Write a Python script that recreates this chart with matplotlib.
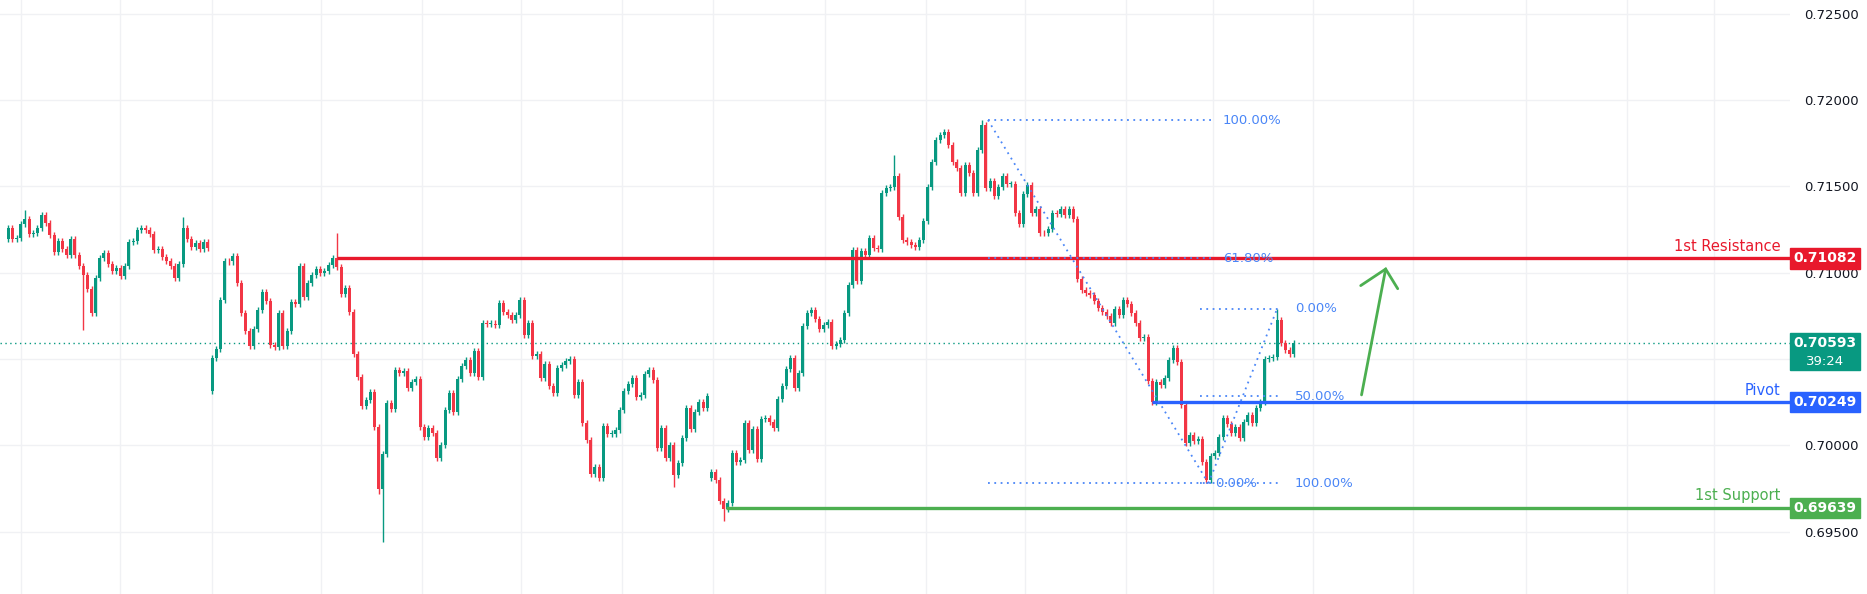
import matplotlib
matplotlib.use("Agg")
import matplotlib.pyplot as plt
from matplotlib.patches import Rectangle
import matplotlib.transforms as mtrans
import numpy as np

closes = [
0.71259, 0.71195, 0.71201, 0.71282, 0.71311, 0.71224, 0.71230, 0.71259, 0.71334, 0.71287,
0.71218, 0.71120, 0.71183, 0.71137, 0.71102, 0.71195, 0.71102, 0.71038, 0.70986, 0.70905,
0.70766, 0.70969, 0.71085, 0.71114, 0.71050, 0.71010, 0.71027, 0.70981, 0.71038, 0.71177,
0.71183, 0.71247, 0.71259, 0.71247, 0.71224, 0.71131, 0.71137, 0.71091, 0.71067, 0.71038,
0.70969, 0.71050, 0.71259, 0.71195, 0.71148, 0.71172, 0.71137, 0.71177, 0.71143,
0.70506, 0.70558, 0.70842, 0.71067, 0.71065, 0.71096, 0.70940, 0.70766, 0.70662, 0.70575, 0.70674,
0.70784, 0.70888, 0.70836, 0.70581, 0.70569, 0.70766, 0.70575, 0.70662, 0.70830, 0.70818,
0.71038, 0.70859, 0.70940, 0.70986, 0.71021, 0.70998, 0.71010, 0.71044, 0.71085, 0.71033,
0.70876, 0.70911, 0.70772, 0.70529, 0.70396, 0.70228, 0.70263, 0.70309, 0.70106, 0.69747,
0.69950, 0.70245, 0.70211, 0.70436, 0.70419, 0.70431, 0.70332, 0.70367, 0.70384, 0.70106,
0.70048, 0.70100, 0.70072, 0.69927, 0.70002, 0.70205, 0.70303, 0.70193, 0.70384, 0.70459,
0.70494, 0.70419, 0.70546, 0.70396, 0.70708, 0.70703, 0.70705, 0.70697, 0.70824, 0.70772,
0.70755, 0.70726, 0.70755, 0.70842, 0.70639, 0.70708, 0.70517, 0.70529, 0.70390, 0.70471,
0.70344, 0.70303, 0.70448, 0.70465, 0.70488, 0.70500, 0.70292, 0.70367, 0.70129, 0.70031,
0.69834, 0.69875, 0.69811, 0.70112, 0.70066, 0.70068, 0.70089, 0.70205, 0.70315, 0.70355,
0.70390, 0.70280, 0.70292, 0.70413, 0.70436, 0.70378, 0.69985, 0.70100, 0.69927, 0.70002,
0.69828, 0.69898, 0.70043, 0.70216, 0.70095, 0.70193, 0.70251, 0.70216, 0.70286, 0.69846,
0.69799, 0.69678, 0.69632, 0.69666, 0.69956, 0.69904, 0.69915, 0.70129, 0.69973, 0.70095,
0.69921, 0.70153, 0.70158, 0.70135, 0.70100, 0.70268, 0.70344, 0.70442, 0.70506, 0.70332,
0.70419, 0.70691, 0.70766, 0.70784, 0.70732, 0.70674, 0.70697, 0.70714, 0.70575, 0.70587,
0.70610, 0.70766, 0.70928, 0.71131, 0.70952, 0.71125, 0.71102, 0.71201, 0.71143, 0.71137,
0.71461, 0.71490, 0.71496, 0.71560, 0.71322, 0.71189, 0.71177, 0.71160, 0.71148, 0.71189,
0.71299, 0.71496, 0.71641, 0.71768, 0.71797, 0.71814, 0.71739, 0.71641, 0.71606, 0.71461,
0.71623, 0.71577, 0.71461, 0.71710, 0.71855, 0.71490, 0.71531, 0.71444, 0.71496, 0.71560,
0.71513, 0.71515, 0.71345, 0.71282, 0.71455, 0.71507, 0.71345, 0.71369, 0.71230, 0.71228,
0.71253, 0.71345, 0.71342, 0.71369, 0.71334, 0.71369, 0.71311, 0.70963, 0.70900, 0.70882,
0.70871, 0.70836, 0.70795, 0.70772, 0.70749, 0.70708, 0.70790, 0.70755, 0.70842, 0.70818,
0.70766, 0.70708, 0.70622, 0.70628, 0.70373, 0.70251, 0.70367, 0.70349, 0.70390, 0.70494,
0.70564, 0.70483, 0.70234, 0.70014, 0.70060, 0.70025, 0.70037, 0.69904, 0.69799, 0.69938,
0.69956, 0.70048, 0.70158, 0.70124, 0.70072, 0.70106, 0.70043, 0.70135, 0.70176, 0.70129,
0.70216, 0.70251, 0.70500, 0.70506, 0.70512, 0.70726, 0.70593, 0.70552, 0.70529, 0.70593,
]
first_open = 0.71195
gap_opens = {50: 0.70315, 170: 0.69811}          # 1-based candle index -> open
wick_highs = {5: 0.71363, 43: 0.71322, 80: 0.71230, 214: 0.71681, 235: 0.71884, 306: 0.70790}
wick_lows = {19: 0.70668, 90: 0.69720, 91: 0.69440, 161: 0.69760, 173: 0.69562, 289: 0.69780}
default_wick = 0.00018

resistance, pivot, support = 0.71082, 0.70249, 0.69639
current_price, countdown = 0.70593, "39:24"
fib1_high, fib1_low = 0.71884, 0.69780
fib2_low, fib2_high = 0.69780, 0.70790
y_ticks = [0.695, 0.700, 0.705, 0.710, 0.715, 0.720, 0.725]

GREEN, RED = "#089981", "#f23645"
n = len(closes)
idx = np.arange(1, n + 1)
opens = [first_open] + closes[:-1]
for k, v in gap_opens.items():
    opens[k - 1] = v
highs, lows = [], []
for i in range(n):
    hi = max(opens[i], closes[i]) + default_wick
    lo = min(opens[i], closes[i]) - default_wick
    hi = max(hi, wick_highs.get(i + 1, hi))
    lo = min(lo, wick_lows.get(i + 1, lo))
    highs.append(hi); lows.append(lo)

W, H = 1867, 594
fig = plt.figure(figsize=(W / 100, H / 100), dpi=100)
ax = fig.add_axes([0, 0, 1790 / W, 1])
ax.set_xlim(-1.0, 429.3)
ax.set_ylim(0.69139, 0.72579)
for s in ax.spines.values():
    s.set_visible(False)
ax.set_xticks([])
ax.set_yticks(y_ticks)
ax.yaxis.tick_right()
ax.tick_params(axis="y", length=0, pad=10, labelsize=9.5, labelcolor="#131722")
ax.yaxis.set_major_formatter(plt.FuncFormatter(lambda v, p: f"{v:.5f}"))
ax.grid(axis="y", color="#f0f1f4", lw=1)
for gx in [4.05, 27.9, 50, 76.1, 100.4, 124.3, 148.5, 170.4, 197.3, 221.6, 245.4,
           269.7, 290.6, 314.6, 338.7, 365.8, 390, 411]:
    ax.axvline(gx, color="#f0f1f4", lw=1, zorder=0)

cols = [GREEN if c >= o else RED for o, c in zip(opens, closes)]
ax.vlines(idx, lows, highs, colors=cols, lw=1, zorder=2)
bottoms = [min(o, c) for o, c in zip(opens, closes)]
heights = [max(abs(c - o), 0.00004) for o, c in zip(opens, closes)]
ax.bar(idx, heights, bottom=bottoms, width=0.72, color=cols, zorder=3)

# current price
ax.axhline(current_price, color=GREEN, lw=1, ls=(0, (1, 2.5)), zorder=1)

# levels
ax.hlines(resistance, 80, 429.3, color="#e8192c", lw=2.4, zorder=4)
ax.hlines(pivot, 276, 429.3, color="#2962ff", lw=2.4, zorder=4)
ax.hlines(support, 173.6, 429.3, color="#4caf50", lw=2.4, zorder=4)
trans_lbl = mtrans.blended_transform_factory(ax.transAxes, ax.transData)
for lvl, txt, col in [(resistance, "1st Resistance", "#e8192c"),
                      (pivot, "Pivot", "#2962ff"),
                      (support, "1st Support", "#4caf50")]:
    ax.text(0.9945, lvl + 0.00025, txt, transform=trans_lbl, ha="right", va="bottom",
            color=col, fontsize=10.5)

# fib drawings
FIB = "#4a86f7"
dot = dict(color=FIB, lw=1.3, ls=(0, (1, 2.5)), zorder=5)
for lv in [fib1_high, resistance, fib1_low]:
    ax.hlines(lv, 236.5, 290.1, **dot)
ax.plot([236.5, 289.5], [fib1_high, fib1_low], **dot)
fib2_mid = (fib2_low + fib2_high) / 2
for lv in [fib2_high, fib2_mid, fib2_low]:
    ax.hlines(lv, 287.4, 306.8, **dot)
ax.plot([289.5, 306], [fib2_low, fib2_high], **dot)
ftxt = dict(color=FIB, fontsize=9.5, va="center", ha="left", zorder=6)
ax.text(293, fib1_high, "100.00%", **ftxt)
ax.text(293, resistance, "61.80%", **ftxt)
ax.text(291, fib1_low, "0.00%", **ftxt)
ax.text(310.3, fib2_high, "0.00%", **ftxt)
ax.text(310.3, fib2_mid, "50.00%", **ftxt)
ax.text(310.3, fib2_low, "100.00%", **ftxt)

# green arrow
AG = "#4caf50"
ax.plot([326.3, 332.1], [0.70292, 0.71021], color=AG, lw=2, solid_capstyle="round", zorder=6)
ax.plot([326.1, 332.1, 335.0], [0.70925, 0.71021, 0.70907], color=AG, lw=2,
        solid_capstyle="round", solid_joinstyle="miter", zorder=6)

# price tags
bw = 70 / 1790
def tag(price, color, text, h=0.00116, top=None, lines=None):
    y0 = price - h / 2 if top is None else top - h
    ax.add_patch(Rectangle((1.0, y0), bw, h, transform=trans_lbl, color=color,
                           clip_on=False, zorder=10))
    if lines is None:
        ax.text(1.0 + bw / 2, price, text, transform=trans_lbl, ha="center", va="center",
                color="white", fontsize=10, fontweight="bold", clip_on=False, zorder=11)
tag(resistance, "#e8192c", "0.71082")
tag(pivot, "#2962ff", "0.70249")
tag(support, "#4caf50", "0.69639")
tag(current_price, GREEN, "", h=0.00215, top=0.70651, lines=True)
ax.text(1.0 + bw / 2, current_price, f"{current_price:.5f}", transform=trans_lbl,
        ha="center", va="center", color="white", fontsize=10, fontweight="bold",
        clip_on=False, zorder=11)
ax.text(1.0 + bw / 2, 0.70488, countdown, transform=trans_lbl, ha="center", va="center",
        color="white", fontsize=9.5, clip_on=False, zorder=11)

fig.savefig("out.png", dpi=100)
